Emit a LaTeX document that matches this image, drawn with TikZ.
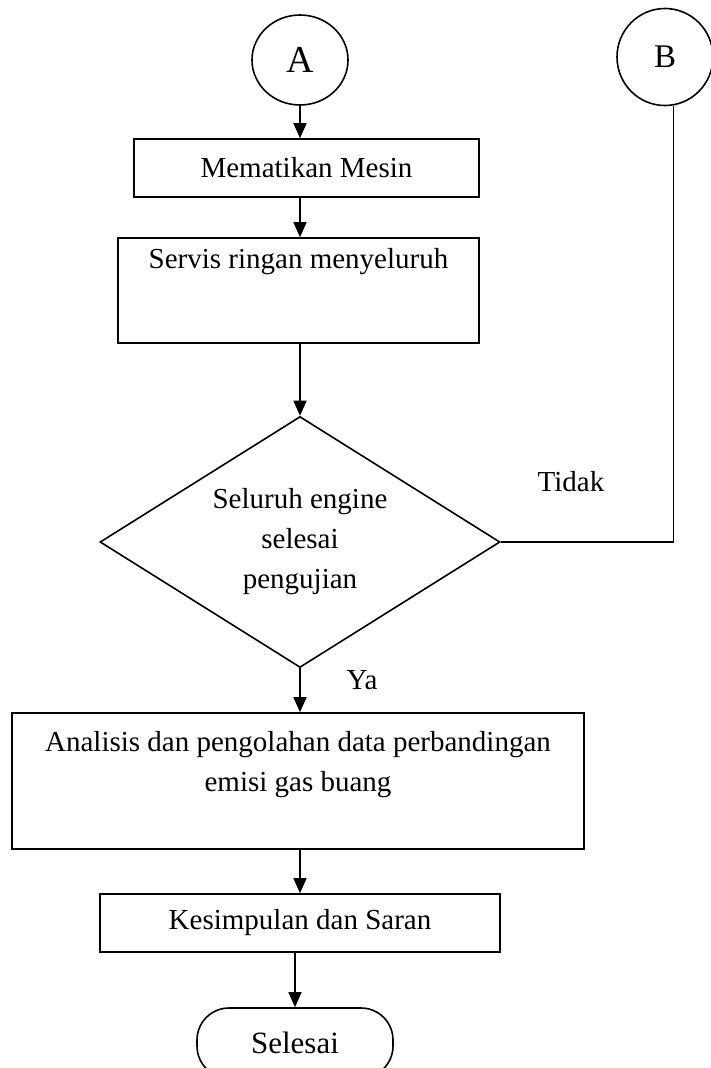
\documentclass[tikz,border=0pt]{standalone}
\usepackage{fontspec}
\setmainfont{Liberation Serif}
\usetikzlibrary{shapes.geometric,arrows.meta}

\begin{document}
\begin{tikzpicture}[x=1pt,y=-1pt,line width=1.6pt,
  every node/.style={font=\fontsize{29}{40}\selectfont, inner sep=0pt},
  proses/.style={draw, rectangle, align=center},
  konektor/.style={draw, ellipse, minimum width=96pt, minimum height=90pt},
  keputusan/.style={draw, diamond, aspect=1.6, align=center, minimum width=400pt, minimum height=251pt},
  terminal/.style={draw, rectangle, rounded corners=32pt, minimum width=196pt, minimum height=70pt},
  panah/.style={-{Triangle[length=15pt,width=13pt]}}]
\useasboundingbox (0,0) rectangle (711,1068);
\node[konektor, font=\fontsize{38}{40}\selectfont] (A) at (300,60) {A};
\node[konektor, minimum height=97pt, font=\fontsize{33}{40}\selectfont] (B) at (665,57) {B};
\node[proses, minimum width=345pt, minimum height=58pt] (mesin) at (306.5,168) {Mematikan Mesin};
\node[proses, minimum width=361pt, minimum height=105pt] (servis) at (298.5,290.5) {Servis ringan menyeluruh\\[25pt]\mbox{}};
\node[keputusan] (uji) at (300,542) {Seluruh engine\\selesai\\pengujian};
\node[proses, minimum width=572pt, minimum height=136pt] (analisis) at (298,781) {Analisis dan pengolahan data perbandingan\\emisi gas buang\\\mbox{}};
\node[proses, minimum width=400pt, minimum height=58pt] (saran) at (300,923) {Kesimpulan dan Saran};
\node[terminal, font=\fontsize{31}{40}\selectfont] (selesai) at (295,1043) {Selesai};
\node (tidak) at (571,482) {Tidak};
\node (ya) at (362,680) {Ya};
% alur
\draw[panah] (A.south) -- (A.south |- mesin.north);
\draw[panah] (A.south |- mesin.south) -- (A.south |- servis.north);
\draw[panah] (uji.north |- servis.south) -- (uji.north);
\draw[panah] (uji.south) -- (uji.south |- analisis.north);
\draw[panah] (saran.north |- analisis.south) -- (saran.north);
\draw[panah] (selesai.north |- saran.south) -- (selesai.north);
\draw (uji.east) -| (B.-80);
\end{tikzpicture}
\end{document}
